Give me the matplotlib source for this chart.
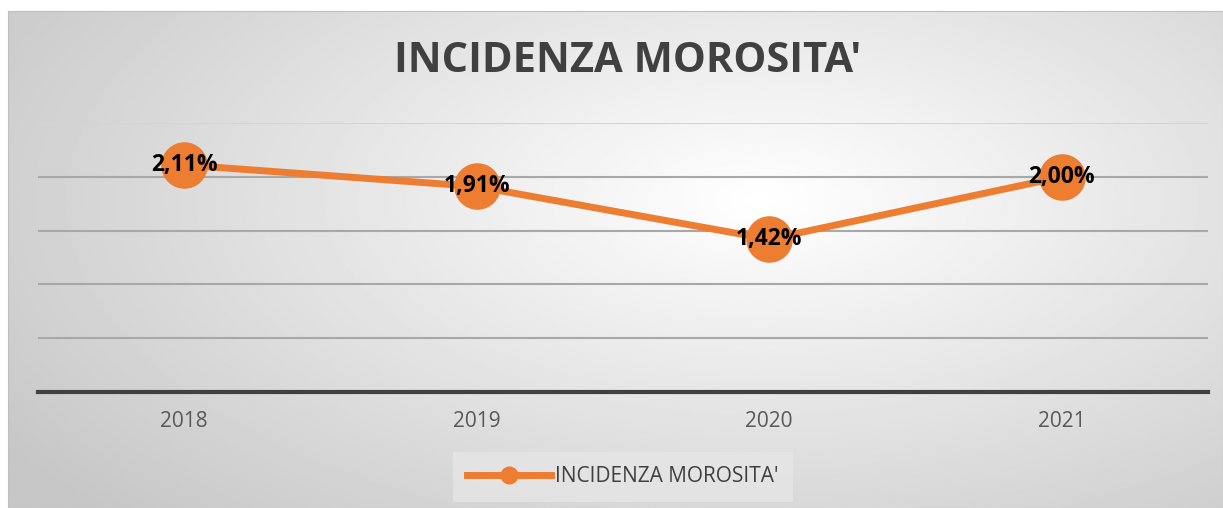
import matplotlib.pyplot as plt
import numpy as np
from matplotlib.lines import Line2D

years = ['2018', '2019', '2020', '2021']
incidenza = [2.11, 1.91, 1.42, 2.00]
labels = ['2,11%', '1,91%', '1,42%', '2,00%']

ORANGE = '#ed7d31'
W, H = 1223, 508

fig = plt.figure(figsize=(W / 100, H / 100), dpi=100)
fig.patch.set_facecolor('white')

# radial gradient background of the chart area
bg = fig.add_axes([8 / W, 0, 1 - 8 / W, 1 - 11 / H])
yy, xx = np.mgrid[0:1:300j, 0:1:700j]
r = np.sqrt(((xx - 0.62) / 0.75) ** 2 + ((yy - 0.62) / 0.9) ** 2)
r = np.clip(r, 0, 1)
grad = 1.0 - 0.22 * r
bg.imshow(grad, cmap='gray', vmin=0, vmax=1, aspect='auto',
          extent=[0, 1, 0, 1], origin='lower')
bg.set_xlim(0, 1)
bg.set_ylim(0, 1)
for s in bg.spines.values():
    s.set_color('#bfbfbf')
bg.set_xticks([])
bg.set_yticks([])

ax = fig.add_axes([38 / W, 1 - 392 / H, (1208 - 38) / W, (392 - 123) / H])
ax.patch.set_alpha(0)
x = np.arange(len(years))
ax.plot(x, incidenza, color=ORANGE, lw=5, marker='o', ms=32.5,
        solid_capstyle='round', zorder=3)
for xi, v, lab in zip(x, incidenza, labels):
    ax.text(xi, v, lab, ha='center', va='center', fontsize=16.5,
            fontweight='bold', color='black', family='Open Sans', zorder=4)

ax.set_xlim(-0.5, 3.5)
ax.set_ylim(0, 2.5)
ax.set_yticks([0.5, 1.0, 1.5, 2.0, 2.5])
ax.yaxis.grid(True, color='#a8a8a8', lw=1.5)
ax.get_ygridlines()[-1].set_color('#d4d4d4')
ax.set_axisbelow(True)
ax.tick_params(axis='y', left=False, labelleft=False)
ax.set_xticks(x)
ax.set_xticklabels(years, fontsize=15, color='#595959', family='Open Sans')
ax.tick_params(axis='x', length=0, pad=14)
for s in ['top', 'right', 'left']:
    ax.spines[s].set_visible(False)
ax.spines['bottom'].set_color('#404040')
ax.spines['bottom'].set_linewidth(3)

fig.text(628 / W, 1 - 62 / H, "INCIDENZA MOROSITA'", ha='center', va='center',
         fontsize=30, fontweight='bold', color='#404040', family='Open Sans')

handle = Line2D([], [], color=ORANGE, lw=5, marker='o', ms=12)
leg = fig.legend([handle], ["INCIDENZA MOROSITA'"], loc='center',
                 bbox_to_anchor=(623 / W, 1 - 477 / H), frameon=True,
                 fancybox=False, handlelength=4.0, handletextpad=0.2,
                 borderpad=0.7, borderaxespad=0,
                 prop={'family': 'Open Sans', 'size': 15})
leg.get_frame().set_facecolor('#e6e6e6')
leg.get_frame().set_edgecolor('none')
for t in leg.get_texts():
    t.set_color('#404040')

fig.savefig('out.png', dpi=100)
